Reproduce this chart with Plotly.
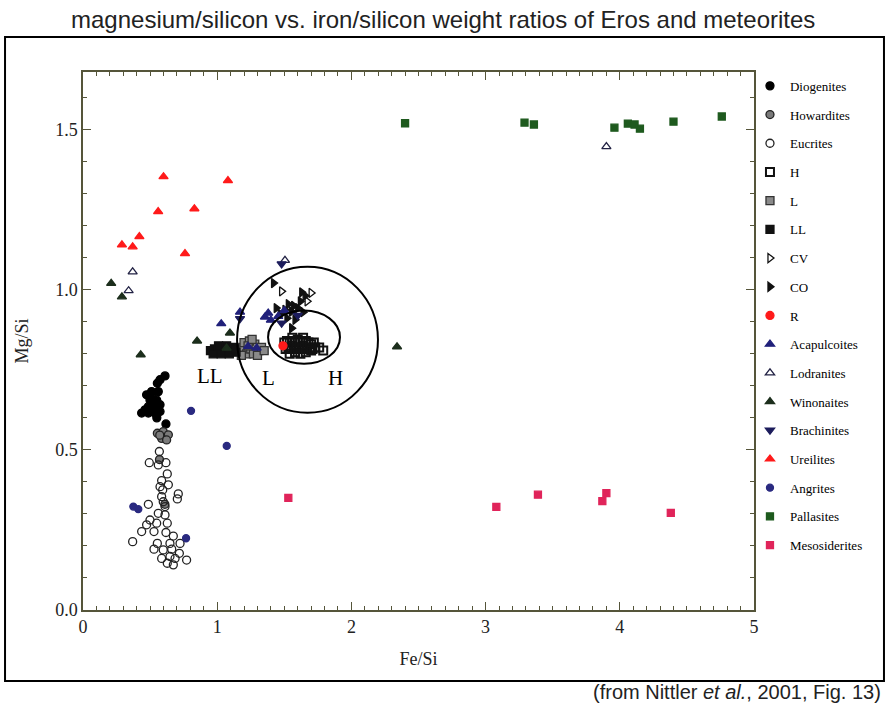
import plotly.graph_objects as go

# ---------------- data (Fe/Si, Mg/Si) ----------------
diog_x = [0.574, 0.611, 0.554, 0.474, 0.511, 0.561, 0.499, 0.549, 0.487, 0.536, 0.574, 0.437, 0.487, 0.536, 0.574, 0.618, 0.462, 0.52, 0.55]
diog_y = [0.719, 0.731, 0.708, 0.672, 0.682, 0.682, 0.656, 0.656, 0.635, 0.635, 0.641, 0.615, 0.615, 0.615, 0.620, 0.581, 0.625, 0.66, 0.60]

howa_x = [0.554, 0.598, 0.636, 0.586, 0.623, 0.572, 0.57, 0.61]
howa_y = [0.552, 0.557, 0.547, 0.536, 0.531, 0.546, 0.47, 0.33]

eucr_x = [0.569, 0.494, 0.561, 0.618, 0.628, 0.586, 0.636, 0.594, 0.710, 0.703, 0.586, 0.487, 0.611, 0.561,
          0.611, 0.499, 0.628, 0.437, 0.529, 0.618, 0.673, 0.370, 0.723, 0.529, 0.598, 0.661, 0.718, 0.586,
          0.648, 0.772, 0.628, 0.686, 0.673, 0.554, 0.648, 0.474, 0.549, 0.574, 0.598]
eucr_y = [0.495, 0.460, 0.453, 0.460, 0.425, 0.404, 0.391, 0.375, 0.3625, 0.347, 0.354, 0.330, 0.323, 0.302,
          0.297, 0.281, 0.271, 0.245, 0.245, 0.242, 0.231, 0.2135, 0.208, 0.190, 0.1875, 0.190, 0.177, 0.161,
          0.167, 0.156, 0.146, 0.161, 0.141, 0.208, 0.208, 0.266, 0.271, 0.385, 0.338]

h_x = [1.50, 1.52, 1.54, 1.56, 1.58, 1.60, 1.62, 1.64, 1.66, 1.68, 1.70, 1.72,
       1.51, 1.53, 1.55, 1.57, 1.59, 1.61, 1.63, 1.65, 1.67, 1.69, 1.71, 1.73,
       1.54, 1.58, 1.62, 1.66, 1.70, 1.76, 1.79, 1.56, 1.64]
h_y = [0.835, 0.84, 0.835, 0.84, 0.835, 0.845, 0.84, 0.835, 0.84, 0.835, 0.83, 0.835,
       0.815, 0.82, 0.815, 0.82, 0.815, 0.82, 0.815, 0.82, 0.815, 0.82, 0.815, 0.82,
       0.80, 0.805, 0.80, 0.805, 0.81, 0.82, 0.81, 0.85, 0.85]

l_x = [1.16, 1.19, 1.22, 1.25, 1.28, 1.31, 1.33, 1.20, 1.24, 1.27, 1.30, 1.18, 1.35, 1.23, 1.26]
l_y = [0.81, 0.82, 0.80, 0.815, 0.83, 0.81, 0.82, 0.835, 0.84, 0.80, 0.795, 0.795, 0.81, 0.825, 0.845]

ll_x = [0.95, 0.98, 1.00, 1.02, 1.04, 1.06, 1.08, 1.10, 1.12, 1.14, 0.97, 1.03, 1.09, 1.13, 1.01, 1.07]
ll_y = [0.81, 0.815, 0.805, 0.82, 0.81, 0.805, 0.815, 0.81, 0.82, 0.805, 0.80, 0.80, 0.80, 0.815, 0.825, 0.825]

cv_x = [1.48, 1.67, 1.70]
cv_y = [0.995, 0.964, 0.99]

co_x = [1.42, 1.63, 1.62, 1.655, 1.44, 1.505, 1.555, 1.60, 1.52, 1.58, 1.555, 1.47, 1.53, 1.64, 1.57]
co_y = [1.021, 0.992, 0.964, 0.981, 0.943, 0.9375, 0.932, 0.943, 0.911, 0.906, 0.880, 0.925, 0.955, 0.93, 0.95]

r_x = [1.49]
r_y = [0.825]

acap_x = [1.03, 1.17, 1.38, 1.356, 1.455, 1.23, 1.294, 1.40, 1.50]
acap_y = [0.894, 0.93, 0.927, 0.915, 0.917, 0.823, 0.818, 0.905, 0.935]

lodr_x = [0.37, 0.34, 1.505, 3.90]
lodr_y = [1.056, 0.997, 1.092, 1.447]

wino_x = [0.21, 0.29, 0.43, 0.85, 1.095, 1.07, 2.34]
wino_y = [1.02, 0.978, 0.797, 0.84, 0.865, 0.818, 0.822]

brac_x = [1.48, 1.17, 1.48, 1.60]
brac_y = [1.081, 0.91, 0.896, 0.92]

ureil_x = [0.60, 1.08, 0.56, 0.83, 0.42, 0.29, 0.37, 0.76]
ureil_y = [1.353, 1.341, 1.244, 1.253, 1.166, 1.14, 1.134, 1.113]

angr_x = [0.805, 1.071, 0.375, 0.412, 0.768]
angr_y = [0.622, 0.5125, 0.323, 0.315, 0.224]

pall_x = [2.40, 3.29, 3.36, 3.96, 4.06, 4.11, 4.15, 4.40, 4.76]
pall_y = [1.52, 1.522, 1.516, 1.506, 1.519, 1.516, 1.503, 1.525, 1.541]

meso_x = [1.53, 3.08, 3.39, 3.90, 3.87, 4.38]
meso_y = [0.35, 0.322, 0.36, 0.365, 0.34, 0.303]

# Eros ellipses: centre x, centre y, half-width, half-height
outer_ell = [1.673, 0.844, 0.525, 0.228]
inner_ell = [1.647, 0.852, 0.268, 0.083]

region_labels = ["LL", "L", "H"]
region_lx = [0.95, 1.38, 1.885]
region_ly = [0.73, 0.725, 0.725]

# ---------------- styles ----------------
series = [
    ("Diogenites", diog_x, diog_y, "circle", "black", "black", 8),
    ("Howardites", howa_x, howa_y, "circle", "#7a7a7a", "#222222", 8),
    ("Eucrites", eucr_x, eucr_y, "circle-open", "#222222", "#222222", 8),
    ("H", h_x, h_y, "square-open", "#111111", "#111111", 8),
    ("L", l_x, l_y, "square", "#8a8a8a", "#333333", 8),
    ("LL", ll_x, ll_y, "square", "#111111", "#111111", 8),
    ("CV", cv_x, cv_y, "triangle-right-open", "#111111", "#111111", 8),
    ("CO", co_x, co_y, "triangle-right", "#111111", "#111111", 8),
    ("R", r_x, r_y, "circle", "#ff1a1a", "#ff1a1a", 8),
    ("Acapulcoites", acap_x, acap_y, "triangle-up", "#20207a", "#20207a", 8),
    ("Lodranites", lodr_x, lodr_y, "triangle-up-open", "#222244", "#222244", 8),
    ("Winonaites", wino_x, wino_y, "triangle-up", "#1c2e1c", "#1c2e1c", 8),
    ("Brachinites", brac_x, brac_y, "triangle-down", "#1c1c5c", "#1c1c5c", 8),
    ("Ureilites", ureil_x, ureil_y, "triangle-up", "#ff1a1a", "#ff1a1a", 8),
    ("Angrites", angr_x, angr_y, "circle", "#2a2a80", "#2a2a80", 7),
    ("Pallasites", pall_x, pall_y, "square", "#1e5a1e", "#1e5a1e", 7),
    ("Mesosiderites", meso_x, meso_y, "square", "#e0245a", "#e0245a", 7),
]

fig = go.Figure()
for name, xs, ys, sym, col, lcol, sz in series:
    lw = 2 if name == "H" else 1.3
    fig.add_trace(go.Scatter(
        x=xs, y=ys, mode="markers", name=name, legendgroup=name,
        marker=dict(symbol=sym, color=col, size=sz,
                    line=dict(color=lcol, width=lw)),
    ))

for cx, cy, rx, ry in [outer_ell, inner_ell]:
    fig.add_shape(type="circle", xref="x", yref="y",
                  x0=cx - rx, x1=cx + rx, y0=cy - ry, y1=cy + ry,
                  line=dict(color="black", width=2))

for t, lx, ly in zip(region_labels, region_lx, region_ly):
    fig.add_annotation(x=lx, y=ly, xref="x", yref="y", text=t, showarrow=False,
                       font=dict(family="Liberation Serif", size=21, color="black"))

# outer frame
fig.add_shape(type="rect", xref="paper", yref="paper",
              x0=-0.1162, x1=1.1937, y0=-0.132, y1=1.065,
              line=dict(color="black", width=2))

fig.add_annotation(xref="paper", yref="paper", x=0.5365, y=1.097,
                   xanchor="center", yanchor="middle",
                   text="magnesium/silicon vs. iron/silicon weight ratios of Eros and meteorites",
                   showarrow=False, font=dict(family="Liberation Sans", size=24, color="#222"))
fig.add_annotation(xref="paper", yref="paper", x=1.1923, y=-0.153,
                   xanchor="right", yanchor="middle",
                   text="(from Nittler <i>et al.</i>, 2001, Fig. 13)",
                   showarrow=False, font=dict(family="Liberation Sans", size=20, color="#222"))

axcol = "#55553a"
fig.update_layout(
    width=886, height=706,
    margin=dict(l=83, r=132, t=72, b=96),
    paper_bgcolor="white", plot_bgcolor="white",
    showlegend=True,
    legend=dict(x=0.994, y=1.002, xanchor="left", yanchor="top",
                font=dict(family="Liberation Serif", size=13, color="black"),
                tracegroupgap=8.8, itemwidth=30, bgcolor="rgba(0,0,0,0)",
                maxheight=690),
    xaxis=dict(range=[0, 5], dtick=1, ticks="inside", ticklen=8, tickwidth=1.2,
               tickcolor=axcol, showline=True, linecolor=axcol, linewidth=1.5,
               mirror="ticks", showgrid=False, zeroline=False,
               tickfont=dict(family="Liberation Serif", size=18, color="#222"),
               minor=dict(dtick=0.1, ticks="inside", ticklen=4, tickcolor=axcol, showgrid=False),
               title=dict(text="Fe/Si", font=dict(family="Liberation Serif", size=18, color="#222"), standoff=16)),
    yaxis=dict(range=[0, 1.68], dtick=0.5, tickformat=".1f", ticks="inside", ticklen=8, tickwidth=1.2,
               tickcolor=axcol, showline=True, linecolor=axcol, linewidth=1.5,
               mirror="ticks", showgrid=False, zeroline=False,
               tickfont=dict(family="Liberation Serif", size=18, color="#222"),
               minor=dict(dtick=0.1, ticks="inside", ticklen=4, tickcolor=axcol, showgrid=False),
               title=dict(text="Mg/Si", font=dict(family="Liberation Serif", size=18, color="#222"), standoff=22)),
)

fig.write_html("out.html")
